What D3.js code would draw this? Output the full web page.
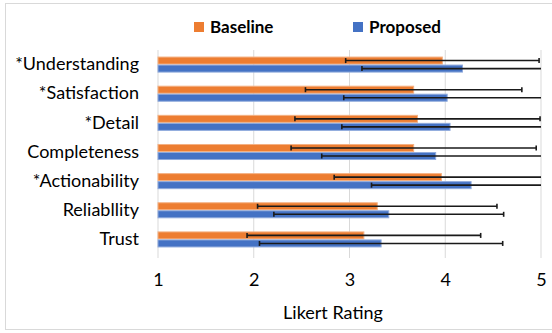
<!DOCTYPE html>
<html><head><meta charset="utf-8">
<script src="https://cdn.jsdelivr.net/npm/d3@7/dist/d3.min.js"></script>
<style>body{margin:0;background:#fff}svg{display:block}</style>
</head><body><svg id="c" width="552" height="333"></svg>
<script>
const categories = ["*Understanding","*Satisfaction","*Detail","Completeness","*Actionability","Reliabllity","Trust"];
const seriesNames = ["Baseline","Proposed"];
const baselineMean = [3.97, 3.67, 3.71, 3.67, 3.96, 3.29, 3.15];
const baselineSD   = [1.01, 1.13, 1.28, 1.28, 1.12, 1.25, 1.22];
const proposedMean = [4.18, 4.02, 4.05, 3.90, 4.27, 3.41, 3.33];
const proposedSD   = [1.05, 1.08, 1.13, 1.19, 1.04, 1.20, 1.27];
const xTicks = [1, 2, 3, 4, 5];
const colors = ["#ED7D31", "#4472C4"];
const edgeColors = ["#F4B183", "#8FAADC"];

const svg = d3.select("#c");
const font = "Lato, 'Open Sans', sans-serif";
// outer frame
svg.append("rect").attr("x",5.5).attr("y",3.5).attr("width",560).attr("height",326)
  .attr("fill","#fff").attr("stroke","#d9d9d9");

const x = d3.scaleLinear().domain([1,5]).range([158,541]);
const y = d3.scaleBand().domain(categories).range([50,254]).paddingInner(0.45).paddingOuter(0.225);
const y2 = d3.scaleBand().domain(seriesNames).range([0, y.bandwidth()]);

// gridlines
svg.append("g").selectAll("line").data(xTicks).join("line")
  .attr("x1",d=>x(d)).attr("x2",d=>x(d)).attr("y1",50).attr("y2",258)
  .attr("stroke","#d9d9d9").attr("stroke-width",1);

// x axis labels
const xa = svg.append("g").attr("transform","translate(0,254)")
  .call(d3.axisBottom(x).tickValues(xTicks).tickFormat(d3.format("d")).tickSize(0).tickPadding(19));
xa.select(".domain").remove();
xa.selectAll("text").attr("font-family",font).attr("font-size",18).attr("fill","#000");

// y axis labels
const ya = svg.append("g").attr("transform","translate(139,0)")
  .call(d3.axisLeft(y).tickSize(0).tickPadding(0));
ya.select(".domain").remove();
ya.selectAll("text").attr("font-family",font).attr("font-size",18).attr("fill","#000");

const data = [];
categories.forEach((c,i)=>{
  data.push({c, s:"Baseline", m:baselineMean[i], sd:baselineSD[i], k:0});
  data.push({c, s:"Proposed", m:proposedMean[i], sd:proposedSD[i], k:1});
});

svg.append("g").selectAll("rect").data(data).join("rect")
  .attr("x",x(1)).attr("y",d=>y(d.c)+y2(d.s)+0.5)
  .attr("width",d=>x(d.m)-x(1)).attr("height",y2.bandwidth()-1)
  .attr("fill",d=>colors[d.k]).attr("stroke",d=>edgeColors[d.k]).attr("stroke-width",1);

// error bars
const eb = svg.append("g").attr("stroke","#1a1a1a").attr("stroke-width",1.6);
data.forEach(d=>{
  const cy = y(d.c)+y2(d.s)+y2.bandwidth()/2;
  const lo = d.m-d.sd, hi = d.m+d.sd;
  const x1 = x(Math.max(1,lo)), x2 = x(Math.min(5,hi));
  eb.append("line").attr("x1",x1).attr("x2",x2).attr("y1",cy).attr("y2",cy);
  if(lo>=1) eb.append("line").attr("x1",x(lo)).attr("x2",x(lo)).attr("y1",cy-2.5).attr("y2",cy+2.5);
  if(hi<=5.01) eb.append("line").attr("x1",x(Math.min(hi,5))).attr("x2",x(Math.min(hi,5))).attr("y1",cy-2.5).attr("y2",cy+2.5);
});

// legend
const leg = svg.append("g");
const legX = [194, 353];
seriesNames.forEach((s,i)=>{
  leg.append("rect").attr("x",legX[i]).attr("y",22).attr("width",10).attr("height",10).attr("fill",colors[i]);
  leg.append("text").attr("x",legX[i]+16).attr("y",32.5).text(s)
    .attr("font-family",font).attr("font-size",17).attr("font-weight","bold").attr("fill","#000");
});

// axis title
svg.append("text").attr("x",333).attr("y",319).attr("text-anchor","middle").text("Likert Rating")
  .attr("font-family",font).attr("font-size",18).attr("fill","#000");
</script></body></html>
